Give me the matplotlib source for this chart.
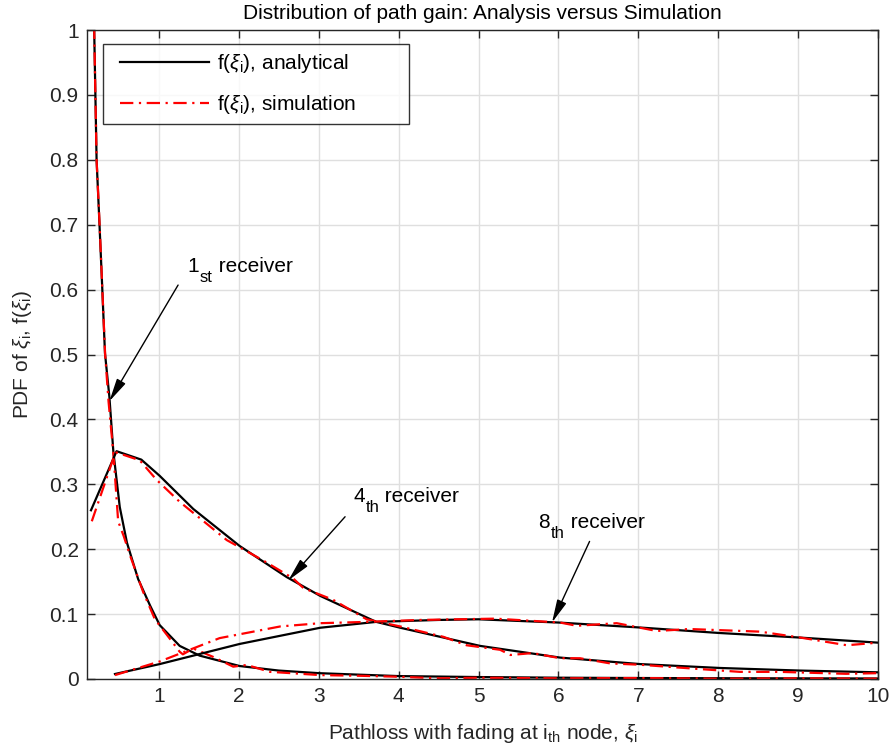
import matplotlib
matplotlib.use("Agg")
import matplotlib.pyplot as plt
from matplotlib.lines import Line2D
from matplotlib.legend_handler import HandlerLine2D

plt.rcParams['font.family'] = ['Liberation Sans', 'DejaVu Sans']
plt.rcParams['mathtext.fontset'] = 'custom'
plt.rcParams['mathtext.rm'] = 'Liberation Sans'
plt.rcParams['mathtext.it'] = 'Liberation Sans:italic'

# ---- data ----
x_an1 = [0.15, 0.19, 0.22, 0.254, 0.29, 0.325, 0.38, 0.43, 0.51, 0.6, 0.74, 0.89, 1.01, 1.26, 1.51, 2.01, 2.5, 3.0, 3.5, 4.0, 5.0, 6.0, 7.0, 8.0, 9.0, 10.0]
y_an1 = [1.2, 1.0, 0.8, 0.707, 0.605, 0.502, 0.435, 0.35, 0.265, 0.21, 0.154, 0.113, 0.083, 0.051, 0.036, 0.020, 0.013, 0.009, 0.0067, 0.0045, 0.003, 0.002, 0.0015, 0.0012, 0.001, 0.0008]

x_an4 = [0.15, 0.47, 0.78, 1.01, 1.43, 2.01, 2.6, 3.02, 3.72, 4.02, 5.02, 6.02, 7.02, 8.02, 9.02, 10.0]
y_an4 = [0.26, 0.351, 0.338, 0.313, 0.262, 0.205, 0.157, 0.128, 0.088, 0.079, 0.051, 0.033, 0.023, 0.017, 0.013, 0.0103]

x_an8 = [0.45, 1.01, 2.01, 3.02, 3.72, 4.5, 5.0, 6.0, 7.0, 8.0, 9.0, 10.0]
y_an8 = [0.0077, 0.023, 0.054, 0.079, 0.088, 0.091, 0.092, 0.087, 0.0795, 0.071, 0.064, 0.056]

x_sim1 = [0.15, 0.19, 0.22, 0.256, 0.292, 0.327, 0.37, 0.43, 0.49, 0.56, 0.64, 0.8, 0.95, 1.1, 1.26, 1.3, 1.43, 1.68, 1.93, 2.1, 2.39, 2.68, 3.02, 3.5, 4.0, 4.5, 5.0, 6.0, 7.0, 8.0, 9.0, 10.0]
y_sim1 = [1.2, 1.0, 0.8, 0.705, 0.6, 0.5, 0.427, 0.348, 0.243, 0.22, 0.19, 0.135, 0.092, 0.068, 0.042, 0.038, 0.047, 0.034, 0.019, 0.0216, 0.011, 0.0088, 0.006, 0.005, 0.0035, 0.001, 0.002, 0.001, 0.0015, 0.0005, 0.001, 0.0005]

x_sim4 = [0.16, 0.43, 0.47, 0.76, 0.97, 1.26, 1.85, 2.3, 2.68, 2.81, 3.18, 3.6, 4.02, 4.56, 4.85, 5.27, 5.4, 5.68, 6.02, 6.27, 6.65, 7.02, 7.52, 8.27, 8.77, 9.6, 10.0]
y_sim4 = [0.243, 0.34, 0.349, 0.337, 0.307, 0.273, 0.214, 0.183, 0.155, 0.14, 0.122, 0.092, 0.081, 0.065, 0.052, 0.045, 0.037, 0.04, 0.032, 0.032, 0.024, 0.022, 0.0175, 0.011, 0.011, 0.008, 0.009]

x_sim8 = [0.45, 1.01, 1.76, 2.52, 3.02, 3.6, 4.27, 5.21, 6.02, 6.23, 6.73, 7.23, 7.64, 8.52, 9.02, 9.61, 10.0]
y_sim8 = [0.006, 0.027, 0.063, 0.081, 0.086, 0.088, 0.091, 0.093, 0.087, 0.082, 0.086, 0.074, 0.077, 0.073, 0.064, 0.052, 0.056]

x_ticks = [1, 2, 3, 4, 5, 6, 7, 8, 9, 10]
y_ticks = [0, 0.1, 0.2, 0.3, 0.4, 0.5, 0.6, 0.7, 0.8, 0.9, 1]
y_ticklabels = ['0', '0.1', '0.2', '0.3', '0.4', '0.5', '0.6', '0.7', '0.8', '0.9', '1']

fs = 15
fig = plt.figure(figsize=(8.92, 7.54), dpi=100)
ax = fig.add_axes([87/892, 1-679/754, (878-87)/892, (679-30)/754])

dash = (0, (6, 2.5, 1, 2.5))
lw = 1.6
ax.plot(x_an1, y_an1, color='black', lw=lw, label=r'f($\xi_{\rm i}$), analytical')
ax.plot(x_sim1, y_sim1, color='red', lw=lw, ls=dash, label=r'f($\xi_{\rm i}$), simulation')
ax.plot(x_an4, y_an4, color='black', lw=lw)
ax.plot(x_sim4, y_sim4, color='red', lw=lw, ls=dash)
ax.plot(x_an8, y_an8, color='black', lw=lw)
ax.plot(x_sim8, y_sim8, color='red', lw=lw, ls=dash)

ax.set_xlim(0.1, 10)
ax.set_ylim(0, 1)
ax.set_xticks(x_ticks)
ax.set_xticklabels([str(t) for t in x_ticks])
ax.set_yticks(y_ticks)
ax.set_yticklabels(y_ticklabels)
ax.grid(True, color='#dfdfdf', lw=1.0)
ax.set_axisbelow(True)
ax.tick_params(direction='in', length=6, width=1, top=True, right=True,
               labelsize=fs, colors='#262626', pad=6)
for s in ax.spines.values():
    s.set_color('#262626')
    s.set_linewidth(1.0)

ax.set_title('Distribution of path gain: Analysis versus Simulation', fontsize=fs, color='black', pad=8)
ax.set_xlabel(r'Pathloss with fading at i$_{\rm th}$ node, $\xi_{\rm i}$', fontsize=fs, color='#262626', labelpad=11)
ax.set_ylabel(r'PDF of $\xi_{\rm i}$, f($\xi_{\rm i}$)', fontsize=fs, color='#262626', labelpad=11)

x0 = (103-87)/791
w = (409-103)/791
leg = ax.legend(loc='upper left', bbox_to_anchor=(x0, 0.978, w, 0.0), mode='expand',
                fontsize=fs, frameon=True, fancybox=False, edgecolor='black',
                handlelength=4.7, borderpad=0.38, labelspacing=0.85, handletextpad=0.4,
                borderaxespad=0, handler_map={Line2D: HandlerLine2D(xpad=0.45)})
leg.get_frame().set_linewidth(1.0)

akw = dict(arrowstyle='-|>,head_length=0.7,head_width=0.15', color='black', lw=1.0,
           mutation_scale=20, shrinkA=0, shrinkB=0)


def sub_label(x, y, main, sub, rest):
    t1 = ax.text(x, y, main, fontsize=fs, va='baseline', ha='left')
    t2 = ax.annotate(sub, xy=(1, 0), xycoords=t1, xytext=(0.5, -6.5),
                     textcoords='offset points', fontsize=fs * 0.8, va='bottom', ha='left')
    ax.annotate(rest, xy=(1, 0), xycoords=(t2, t1), xytext=(0, 0),
                textcoords='offset points', fontsize=fs, va='bottom', ha='left')


ax.annotate('', xy=(0.38, 0.428), xytext=(1.24, 0.607), arrowprops=akw)
sub_label(1.36, 0.627, '1', 'st', ' receiver')
ax.annotate('', xy=(2.62, 0.152), xytext=(3.33, 0.25), arrowprops=akw)
sub_label(3.43, 0.273, '4', 'th', ' receiver')
ax.annotate('', xy=(5.92, 0.087), xytext=(6.39, 0.212), arrowprops=akw)
sub_label(5.75, 0.233, '8', 'th', ' receiver')

fig.savefig('out.png', dpi=100)
